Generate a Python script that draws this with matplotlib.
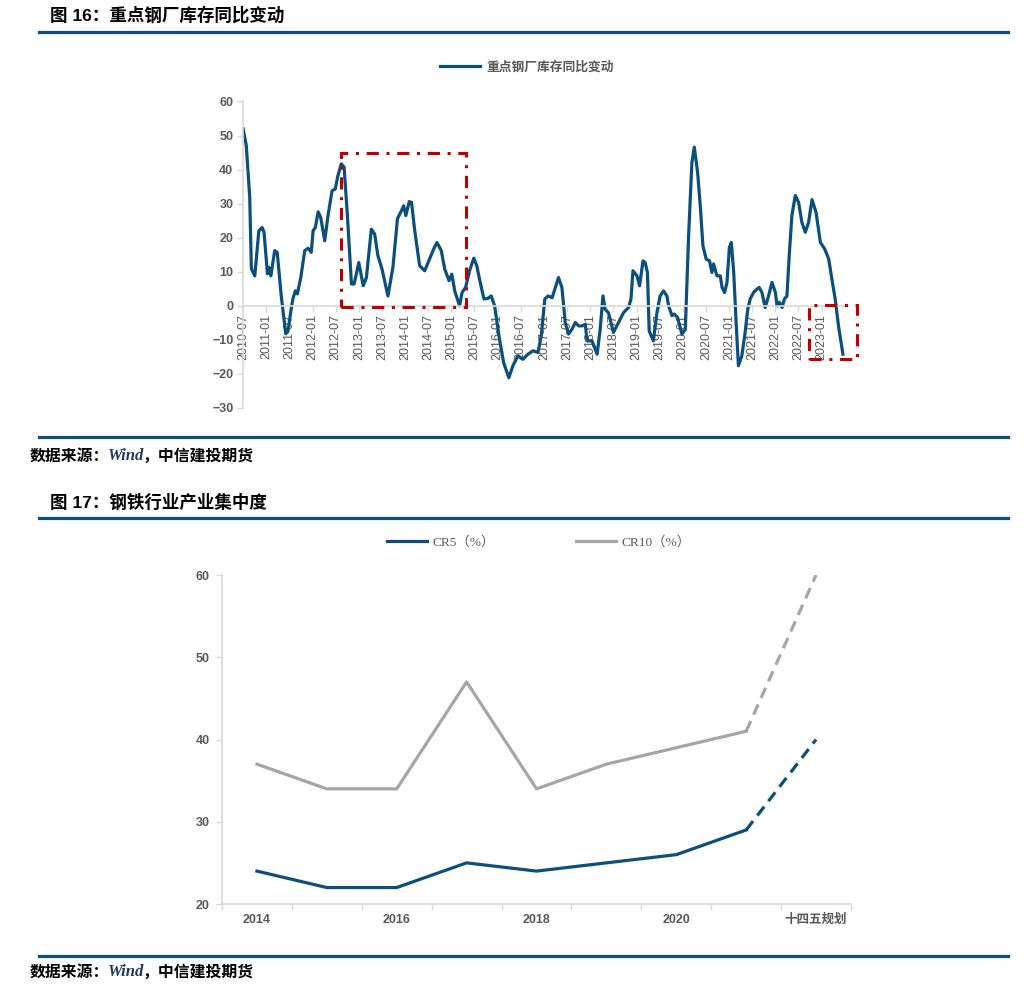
import matplotlib
matplotlib.use('Agg')
import matplotlib.pyplot as plt
from matplotlib.lines import Line2D
from matplotlib.patches import Rectangle
import matplotlib.dates as mdates
import pandas as pd

plt.rcParams['font.family'] = ['Liberation Sans', 'Noto Sans CJK SC', 'DejaVu Sans']

W, H = 1030, 996
BLUE = '#0B4F7C'
GRAY_LINE = '#A6A6A6'
AXIS = '#D9D9D9'
TICK_TXT = '#595959'
RED = '#C00000'

# ---- chart 16: 重点钢厂库存同比变动
inv_dates = [
    '2010-07-02', '2010-07-27', '2010-08-23', '2010-09-05', '2010-10-02', '2010-11-03',
    '2010-11-29', '2010-12-14', '2011-01-10', '2011-01-21', '2011-02-06', '2011-03-08',
    '2011-03-28', '2011-04-29', '2011-06-03', '2011-06-21', '2011-07-12', '2011-07-30',
    '2011-08-18', '2011-09-03', '2011-09-30', '2011-10-31', '2011-11-26', '2011-12-22',
    '2012-01-05', '2012-01-23', '2012-02-14', '2012-03-05', '2012-04-06', '2012-05-02',
    '2012-06-03', '2012-06-28', '2012-07-19', '2012-08-15', '2012-09-06', '2012-10-02',
    '2012-11-03', '2012-11-24', '2012-12-31', '2013-02-04', '2013-03-01', '2013-04-09',
    '2013-05-05', '2013-05-31', '2013-07-02', '2013-08-18', '2013-09-27', '2013-11-01',
    '2013-12-02', '2013-12-20', '2014-01-06', '2014-02-02', '2014-02-20', '2014-03-16',
    '2014-04-25', '2014-06-04', '2014-07-12', '2014-08-14', '2014-09-09', '2014-10-13',
    '2014-11-09', '2014-12-13', '2015-01-04', '2015-01-27', '2015-03-06', '2015-03-26',
    '2015-04-23', '2015-05-24', '2015-06-27', '2015-07-20', '2015-08-16', '2015-09-15',
    '2015-10-16', '2015-11-11', '2015-12-08', '2016-01-11', '2016-02-17', '2016-03-29',
    '2016-04-30', '2016-06-09', '2016-07-18', '2016-08-27', '2016-10-06', '2016-11-14',
    '2016-12-10', '2017-01-07', '2017-02-02', '2017-03-06', '2017-04-25', '2017-05-22',
    '2017-06-17', '2017-07-13', '2017-08-09', '2017-09-05', '2017-10-01', '2017-10-27',
    '2017-11-23', '2017-12-06', '2018-01-15', '2018-02-24', '2018-03-20', '2018-04-11',
    '2018-04-28', '2018-05-24', '2018-07-03', '2018-08-12', '2018-09-20', '2018-10-30',
    '2018-11-18', '2018-12-04', '2019-01-05', '2019-01-25', '2019-02-21', '2019-03-10',
    '2019-03-28', '2019-04-11', '2019-05-14', '2019-06-11', '2019-07-06', '2019-08-02',
    '2019-08-29', '2019-09-11', '2019-10-08', '2019-10-25', '2019-11-21', '2019-12-25',
    '2020-01-21', '2020-02-16', '2020-03-13', '2020-04-01', '2020-04-27', '2020-05-18',
    '2020-06-08', '2020-07-04', '2020-07-30', '2020-08-18', '2020-08-31', '2020-09-27',
    '2020-10-23', '2020-11-06', '2020-11-26', '2020-12-15', '2021-01-03', '2021-01-18',
    '2021-02-06', '2021-02-25', '2021-03-15', '2021-04-11', '2021-05-07', '2021-05-28',
    '2021-06-16', '2021-07-12', '2021-08-08', '2021-08-26', '2021-09-17', '2021-10-12',
    '2021-11-08', '2021-12-05', '2022-01-01', '2022-01-14', '2022-02-02', '2022-02-23',
    '2022-03-13', '2022-04-02', '2022-04-20', '2022-05-11', '2022-06-07', '2022-07-03',
    '2022-07-29', '2022-08-25', '2022-09-20', '2022-10-17', '2022-11-18', '2022-12-22',
    '2023-01-25', '2023-02-26', '2023-03-23', '2023-04-18', '2023-05-14', '2023-06-18',
]
inv_values = [
    52.0, 47.0, 32.0, 10.9, 8.8, 22.0,
    23.0, 21.6, 9.4, 11.3, 8.8, 16.2,
    15.7, 2.9, -8.2, -7.4, -2.0, 2.1,
    4.4, 3.5, 8.3, 16.2, 16.9, 15.7,
    22.0, 23.0, 27.6, 26.0, 19.1, 26.5,
    33.8, 34.3, 38.2, 41.7, 40.7, 26.5,
    6.4, 6.4, 12.7, 5.9, 8.3, 22.5,
    21.1, 14.7, 10.8, 2.9, 11.5, 25.6,
    27.9, 29.4, 26.5, 30.6, 30.4, 22.5,
    11.8, 10.3, 13.7, 16.7, 18.6, 16.2,
    10.8, 7.4, 9.3, 4.4, 0.0, 3.9,
    5.4, 10.3, 14.0, 11.8, 6.9, 2.0,
    2.2, 2.9, 0.0, -8.8, -16.7, -21.1,
    -17.6, -14.7, -15.7, -14.2, -13.2, -13.7,
    -8.8, 2.0, 2.9, 2.4, 8.3, 5.4,
    -4.9, -8.3, -6.9, -4.9, -5.9, -5.9,
    -5.4, -10.3, -10.3, -14.2, -6.9, 2.9,
    -1.0, -2.0, -7.8, -4.9, -2.0, -0.5,
    2.0, 10.3, 8.8, 5.9, 13.2, 12.7,
    9.8, -7.4, -10.3, -2.0, 2.9, 4.4,
    2.9, 0.0, -2.9, -2.4, -3.4, -8.3,
    -6.9, 20.6, 42.1, 46.6, 39.2, 29.4,
    17.6, 13.7, 13.2, 9.8, 12.3, 8.8,
    8.8, 5.4, 3.9, 6.9, 17.2, 18.6,
    9.8, -4.9, -17.6, -14.7, -7.8, -1.0,
    2.0, 3.9, 4.9, 5.4, 3.9, -0.5,
    2.9, 6.9, 3.9, 0.0, 1.0, -0.5,
    2.0, 2.9, 14.7, 26.5, 32.4, 30.4,
    24.5, 21.6, 24.5, 31.2, 27.4, 18.6,
    16.7, 13.7, 7.8, 2.0, -5.9, -14.2,
]
inv_label = '重点钢厂库存同比变动'
# highlighted periods: (start, end, low, high)
boxes = [('2012-08-13', '2015-04-29', -0.3, 44.8),
         ('2022-09-27', '2023-10-07', -15.5, 0.2)]

# ---- chart 17: 钢铁行业产业集中度
years = ['2014', '2015', '2016', '2017', '2018', '2019', '2020', '2021', '十四五规划']
cr5 = [24, 22, 22, 25, 24, 25, 26, 29, 40]
cr10 = [37, 34, 34, 47, 34, 37, 39, 41, 60]


def px_axes(fig, left, top, right, bottom):
    return fig.add_axes([left / W, 1 - bottom / H, (right - left) / W, (bottom - top) / H])


def hline(fig, y, x0=39, x1=1008):
    fig.add_artist(Line2D([x0 / W, x1 / W], [1 - y / H, 1 - y / H], color=BLUE, lw=2.3))


def source(fig, y):
    yy = 1 - y / H
    fig.text(30 / W, yy, '数据来源：', fontsize=11.4, weight='bold', style='italic',
             family=['Noto Sans CJK SC'], va='center', color='black')
    fig.text(108 / W, yy, 'Wind', fontsize=12, weight='bold', style='italic',
             family=['Liberation Serif'], va='center', color='#1F3A60')
    fig.text(142 / W, yy, '，中信建投期货', fontsize=11.4, weight='bold', style='italic',
             family=['Noto Sans CJK SC'], va='center', color='black')


fig = plt.figure(figsize=(W / 100, H / 100), dpi=100)
fig.patch.set_facecolor('white')

# headers and rules
fig.text(50 / W, 1 - 15 / H, '图 16：重点钢厂库存同比变动', fontsize=12.6, weight='bold',
         va='center', color='black')
hline(fig, 32)
hline(fig, 437)
source(fig, 456)
fig.text(50 / W, 1 - 502 / H, '图 17：钢铁行业产业集中度', fontsize=12.6, weight='bold',
         va='center', color='black')
hline(fig, 518)
hline(fig, 956)
source(fig, 972)

# ---------------- top chart
ax1 = px_axes(fig, 243, 101.5, 848, 408)
d = pd.to_datetime(inv_dates)
ax1.plot(d, inv_values, color=BLUE, lw=2.3, label=inv_label, solid_joinstyle='round')
ax1.set_xlim(pd.Timestamp('2010-07-01'), pd.Timestamp('2023-07-28'))
ax1.set_ylim(-30, 60)
ax1.set_yticks(range(-30, 61, 10))
ticks = pd.date_range('2010-07-01', '2023-01-01', freq='6MS')
ax1.set_xticks(ticks)
ax1.xaxis.set_major_formatter(mdates.DateFormatter('%Y-%m'))
ax1.tick_params(axis='x', length=4, width=1, color=AXIS, labelsize=9, labelcolor=TICK_TXT,
                pad=2, labelrotation=90)
ax1.tick_params(axis='y', length=4, width=1, color=AXIS, labelsize=9, labelcolor=TICK_TXT, pad=3)
for lab in ax1.get_yticklabels():
    lab.set_fontweight('bold')
ax1.spines['bottom'].set_position(('data', 0))
for s in ['top', 'right']:
    ax1.spines[s].set_visible(False)
for s in ['left', 'bottom']:
    ax1.spines[s].set_color(AXIS)
    ax1.spines[s].set_linewidth(1.2)
for x0, x1, lo, hi in boxes:
    t0 = mdates.date2num(pd.Timestamp(x0))
    t1 = mdates.date2num(pd.Timestamp(x1))
    ax1.add_patch(Rectangle((t0, lo), t1 - t0, hi - lo, fill=False, edgecolor=RED, lw=2.2,
                            linestyle=(0, (4, 2.5, 1, 2.5)), clip_on=False, zorder=4))
ax1.legend(loc='center', bbox_to_anchor=(527 / W, 1 - 67 / H), bbox_transform=fig.transFigure,
           frameon=False, handlelength=3.1, handletextpad=0.5,
           prop={'family': ['Noto Sans CJK SC'], 'weight': 'bold', 'size': 9.2})
for t in ax1.get_legend().get_texts():
    t.set_color(TICK_TXT)

# ---------------- bottom chart
ax2 = px_axes(fig, 222, 575, 851, 904)
xi = list(range(len(years)))
ax2.plot(xi[:-1], cr5[:-1], color=BLUE, lw=2.3, label='CR5（%）')
ax2.plot(xi[:-1], cr10[:-1], color=GRAY_LINE, lw=2.3, label='CR10（%）')
ax2.plot(xi[-2:], cr5[-2:], color=BLUE, lw=2.3, linestyle=(0, (3.5, 2.2)))
ax2.plot(xi[-2:], cr10[-2:], color=GRAY_LINE, lw=2.3, linestyle=(0, (3.5, 2.2)))
ax2.set_xlim(-0.5, len(years) - 0.5)
ax2.set_ylim(20, 60)
ax2.set_yticks(range(20, 61, 10))
ax2.set_xticks(xi[::2])
ax2.set_xticklabels(years[::2])
ax2.set_xticks([i - 0.5 for i in range(len(years) + 1)], minor=True)
ax2.tick_params(axis='x', which='major', length=0, labelsize=9, labelcolor=TICK_TXT, pad=7)
ax2.tick_params(axis='x', which='minor', length=4, width=1, color=AXIS)
ax2.tick_params(axis='y', length=4, width=1, color=AXIS, labelsize=9, labelcolor=TICK_TXT, pad=5)
for lab in ax2.get_xticklabels() + ax2.get_yticklabels():
    lab.set_fontweight('bold')
for s in ['top', 'right']:
    ax2.spines[s].set_visible(False)
for s in ['left', 'bottom']:
    ax2.spines[s].set_color(AXIS)
    ax2.spines[s].set_linewidth(1.2)
leg2 = ax2.legend(loc='center', bbox_to_anchor=(539 / W, 1 - 542 / H), bbox_transform=fig.transFigure,
                  frameon=False, ncol=2, handlelength=3.0, handletextpad=0.4, columnspacing=6.1,
                  prop={'family': ['Liberation Serif', 'Noto Sans CJK SC'], 'size': 9.6})
for t in leg2.get_texts():
    t.set_color(TICK_TXT)

fig.savefig('out.png', dpi=100, facecolor='white')
